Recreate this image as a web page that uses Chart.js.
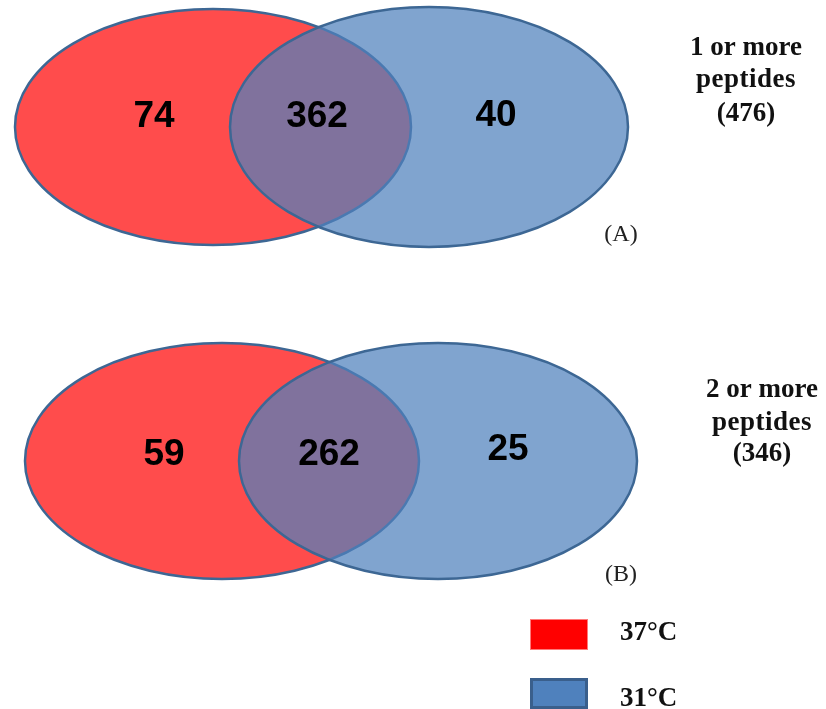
<!DOCTYPE html>
<html>
<head>
<meta charset="utf-8">
<script src="https://cdn.jsdelivr.net/npm/chart.js@4.4.1/dist/chart.umd.min.js"></script>
<style>
  html, body { margin: 0; padding: 0; background: #ffffff; }
  #wrap { width: 826px; height: 709px; position: relative; }
</style>
</head>
<body>
<div id="wrap"><canvas id="venn"></canvas></div>
<script>
// Proteins identified at each temperature, per peptide threshold
const panels = ['(A)', '(B)'];
const thresholds = ['1 or more', '2 or more'];
const conditions = ['37°C', '31°C'];
const only37 = [74, 59];
const shared = [362, 262];
const only31 = [40, 25];
const totals = [476, 346];

// Geometry in canvas units (x scale 0..826, y scale 0..709 top-down)
const geom = [
  {
    sets: [{ cx: 213, cy: 127, rx: 198, ry: 118 }, { cx: 429, cy: 127, rx: 199, ry: 120 }],
    counts: [[154, 117], [317, 117], [496, 116]],
    tag: [621, 235],
    title: { x: 746, baselines: [55, 87, 121] }
  },
  {
    sets: [{ cx: 222, cy: 461, rx: 197, ry: 118 }, { cx: 438, cy: 461, rx: 199, ry: 118 }],
    counts: [[164, 455], [329, 455], [508, 450]],
    tag: [621, 575],
    title: { x: 762, baselines: [397, 430, 461] }
  }
];
const legendGeom = { box: [530, 58, 31], rows: [619, 678], textX: 620, baselines: [640, 706] };

const setFill = ['rgba(255, 0, 0, 0.70)', 'rgba(79, 129, 189, 0.72)'];
const setStroke = '#3d6794';
const swatchFill = ['#ff0000', '#4f81bd'];
const swatchStroke = ['#ff7a7a', '#3a5f8c'];

// One point dataset per region so every count sits on the scales
const regionValues = [only37, shared, only31];
const datasets = regionValues.map((vals, r) => ({
  label: ['37°C only', 'shared', '31°C only'][r],
  data: vals.map((v, p) => ({ x: geom[p].counts[r][0], y: geom[p].counts[r][1], v })),
  pointRadius: 0,
  pointHoverRadius: 0
}));

const vennPlugin = {
  id: 'venn',
  beforeDatasetsDraw(chart) {
    const { ctx, scales: { x, y } } = chart;
    ctx.save();
    geom.forEach(g => {
      g.sets.forEach((s, i) => {
        const px = x.getPixelForValue(s.cx);
        const py = y.getPixelForValue(s.cy);
        const rx = Math.abs(x.getPixelForValue(s.cx + s.rx) - px);
        const ry = Math.abs(y.getPixelForValue(s.cy + s.ry) - py);
        ctx.beginPath();
        ctx.ellipse(px, py, rx, ry, 0, 0, Math.PI * 2);
        ctx.fillStyle = setFill[i];
        ctx.fill();
        ctx.lineWidth = 2.5;
        ctx.strokeStyle = setStroke;
        ctx.stroke();
      });
    });
    ctx.restore();
  },
  afterDatasetsDraw(chart) {
    const { ctx, scales: { x, y } } = chart;
    ctx.save();
    // counts inside the regions
    ctx.fillStyle = '#000';
    ctx.font = 'bold 37px "Liberation Sans", Arial, sans-serif';
    ctx.textAlign = 'center';
    ctx.textBaseline = 'middle';
    chart.data.datasets.forEach((ds, di) => {
      const meta = chart.getDatasetMeta(di);
      meta.data.forEach((pt, j) => {
        ctx.fillText(String(ds.data[j].v), pt.x, pt.y);
      });
    });
    // panel titles and tags
    geom.forEach((g, p) => {
      ctx.font = 'bold 27px "Liberation Serif", "Times New Roman", serif';
      ctx.textBaseline = 'alphabetic';
      ctx.fillStyle = '#111';
      const lines = [thresholds[p], 'peptides', '(' + totals[p] + ')'];
      lines.forEach((t, k) => {
        ctx.letterSpacing = k === 1 ? '0.5px' : '0px';
        ctx.fillText(t, x.getPixelForValue(g.title.x), y.getPixelForValue(g.title.baselines[k]));
      });
      ctx.letterSpacing = '0px';
      ctx.font = '24px "Liberation Serif", "Times New Roman", serif';
      ctx.textBaseline = 'middle';
      ctx.fillStyle = '#222';
      ctx.fillText(panels[p], x.getPixelForValue(g.tag[0]), y.getPixelForValue(g.tag[1]));
    });
    // legend
    const [bx, bw, bh] = legendGeom.box;
    conditions.forEach((c, i) => {
      const x0 = x.getPixelForValue(bx);
      const y0 = y.getPixelForValue(legendGeom.rows[i]);
      ctx.fillStyle = swatchFill[i];
      ctx.fillRect(x0, y0, bw, bh);
      ctx.lineWidth = i === 0 ? 1 : 3;
      ctx.strokeStyle = swatchStroke[i];
      const inset = ctx.lineWidth / 2;
      ctx.strokeRect(x0 + inset, y0 + inset, bw - 2 * inset, bh - 2 * inset);
      ctx.font = 'bold 27px "Liberation Serif", "Times New Roman", serif';
      ctx.textAlign = 'left';
      ctx.textBaseline = 'alphabetic';
      ctx.fillStyle = '#111';
      ctx.fillText(c, x.getPixelForValue(legendGeom.textX), y.getPixelForValue(legendGeom.baselines[i]));
    });
    ctx.restore();
  }
};

new Chart(document.getElementById('venn'), {
  type: 'scatter',
  data: { datasets },
  options: {
    responsive: true,
    maintainAspectRatio: false,
    animation: false,
    layout: { padding: 0 },
    events: [],
    scales: {
      x: { type: 'linear', min: 0, max: 826, display: false },
      y: { type: 'linear', min: 0, max: 709, reverse: true, display: false }
    },
    plugins: {
      legend: { display: false },
      tooltip: { enabled: false }
    }
  },
  plugins: [vennPlugin]
});
</script>
</body>
</html>
